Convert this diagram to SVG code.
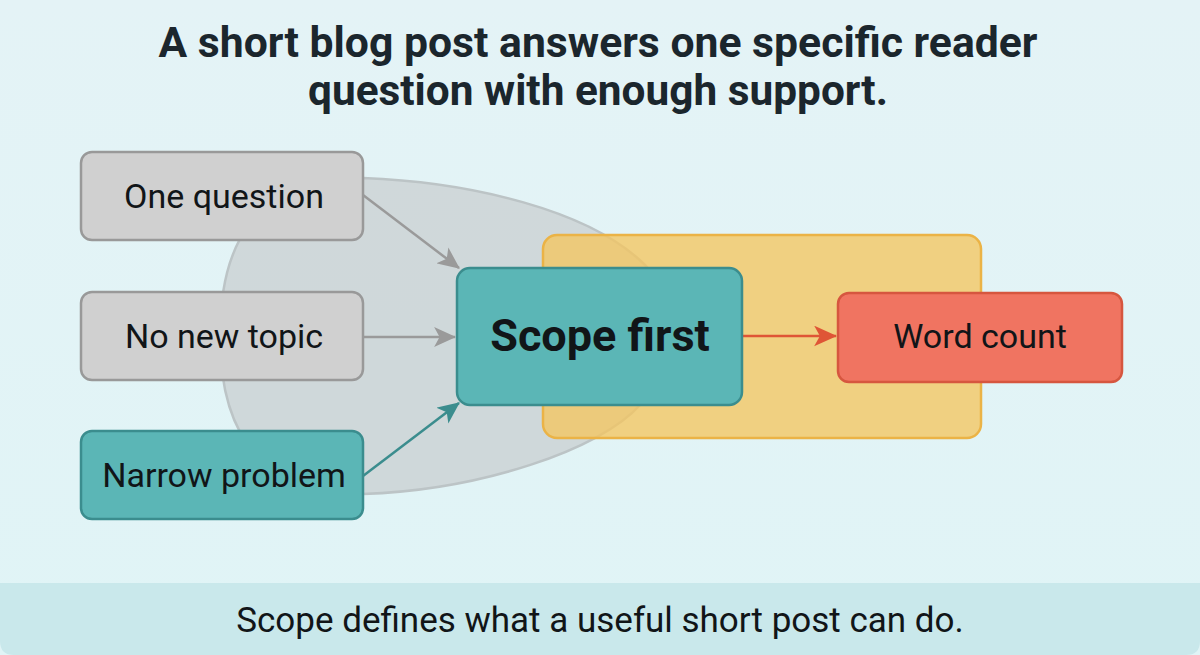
<svg xmlns="http://www.w3.org/2000/svg" width="1200" height="655" viewBox="0 0 1200 655">
<defs>
<style>
.t{font-family:Roboto,"Liberation Sans",sans-serif;fill:#111518;text-anchor:middle}
.title{font-size:42px;font-weight:700;fill:#1b262d}
.lbl{font-size:34px}
.gray{fill:#d0d0d0;stroke:#999;stroke-width:2.5}
.teal{fill:#5bb6b6;stroke:#3b8d8e;stroke-width:2.5}
</style>
<marker id="ahg" viewBox="0 0 20 18" refX="19" refY="9" markerWidth="22" markerHeight="20" orient="auto" markerUnits="userSpaceOnUse"><path d="M0 0L20 9L0 18L5 9Z" fill="#9a9a9a"/></marker>
<marker id="aht" viewBox="0 0 20 18" refX="19" refY="9" markerWidth="22" markerHeight="20" orient="auto" markerUnits="userSpaceOnUse"><path d="M0 0L20 9L0 18L5 9Z" fill="#3b8d8e"/></marker>
<marker id="ahr" viewBox="0 0 20 18" refX="19" refY="9" markerWidth="23" markerHeight="21" orient="auto" markerUnits="userSpaceOnUse"><path d="M0 0L20 9L0 18L5 9Z" fill="#df5536"/></marker>
<linearGradient id="bg" x1="0" y1="0" x2="0" y2="1"><stop offset="0" stop-color="#e4f3f6"/><stop offset="1" stop-color="#e0f4f6"/></linearGradient>
</defs>
<rect width="1200" height="655" fill="url(#bg)"/>
<path d="M0 583H1200V641Q1200 655 1186 655H14Q0 655 0 641Z" fill="#c9e8eb"/>
<text class="t title" x="598" y="57" textLength="879" lengthAdjust="spacingAndGlyphs">A short blog post answers one specific reader</text>
<text class="t title" x="598" y="105" textLength="580" lengthAdjust="spacingAndGlyphs">question with enough support.</text>
<g id="scope-region">
<path d="M363 178C470 182 590 210 645 265C680 300 675 370 640 405C600 450 480 490 363 494C250 494 220 420 220 336C220 250 250 178 363 178Z" fill="#cbd1d3" fill-opacity="0.8" stroke="#bcc4c6" stroke-width="2.5"/>
</g>
<g id="length-region">
<rect x="543" y="235" width="438" height="203" rx="14" fill="#f3c560" fill-opacity="0.78" stroke="#ebb346" stroke-width="2.5"/>
</g>
<g id="connectors" fill="none" stroke-width="2.5">
<line x1="363" y1="195" x2="459" y2="268" stroke="#9a9a9a" marker-end="url(#ahg)"/>
<line x1="363" y1="337" x2="455" y2="337" stroke="#9a9a9a" marker-end="url(#ahg)"/>
<line x1="363" y1="476" x2="459" y2="403" stroke="#3b8d8e" marker-end="url(#aht)"/>
<line x1="742" y1="336" x2="836" y2="336" stroke="#df5536" marker-end="url(#ahr)"/>
</g>
<g id="one-question">
<rect class="gray" x="81" y="152" width="282" height="88" rx="11"/>
<text class="t lbl" x="224" y="208">One question</text>
</g>
<g id="no-new-topic">
<rect class="gray" x="81" y="292" width="282" height="88" rx="11"/>
<text class="t lbl" x="224" y="348">No new topic</text>
</g>
<g id="narrow-problem">
<rect class="teal" x="81" y="431" width="282" height="88" rx="11"/>
<text class="t lbl" x="224" y="487">Narrow problem</text>
</g>
<g id="scope-first">
<rect class="teal" x="457" y="268" width="285" height="137" rx="13"/>
<text class="t" x="600" y="351" font-size="45" font-weight="700" fill="#12232c">Scope first</text>
</g>
<g id="word-count">
<rect x="838" y="293" width="284" height="89" rx="11" fill="#f07461" stroke="#d6563f" stroke-width="2.5"/>
<text class="t lbl" x="980" y="348">Word count</text>
</g>
<text class="t" x="600" y="632" font-size="35">Scope defines what a useful short post can do.</text>
</svg>
